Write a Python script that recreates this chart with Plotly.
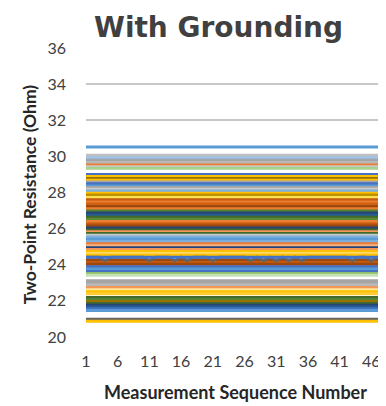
import plotly.graph_objects as go

# ---- data ----
measurements = list(range(1, 49))
x_ticks = [1, 6, 11, 16, 21, 26, 31, 36, 41, 46]
y_ticks = [20, 22, 24, 26, 28, 30, 32, 34, 36]

# each sample's two-point resistance level (Ohm), flat across the sequence
levels = [30.52, 30.06, 29.92, 29.78, 29.64, 29.52, 29.43, 29.34,
          29.00, 28.88, 28.78, 28.68, 28.58, 28.48, 28.36, 28.27, 28.18, 28.08,
          27.96, 27.86, 27.73, 27.60, 27.48, 27.36, 27.23, 27.10, 26.98,
          26.86, 26.74, 26.63, 26.52, 26.39, 26.26, 26.15, 26.03, 25.93,
          25.83, 25.73, 25.63, 25.53, 25.41, 25.29, 25.16, 25.05, 24.94,
          24.84, 24.73, 24.62, 24.52,
          24.24, 24.13, 24.03,
          None,
          24.42,
          23.89, 23.76, 23.63, 23.52, 23.42,
          23.12, 23.00, 22.89, 22.74, 22.62, 22.50, 22.39,
          22.19, 22.08, 21.96, 21.86, 21.76, 21.66, 21.56, 21.47,
          20.98, 20.87]

# the dark-gray sample that dips into the brown band at some measurements
dip_series = [24.42, 24.42, 24.42, 24.22, 24.42, 24.42, 24.42, 24.42, 24.42, 24.42,
              24.22, 24.42, 24.42, 24.42, 24.22, 24.42, 24.22, 24.42, 24.42, 24.42,
              24.22, 24.42, 24.42, 24.42, 24.42, 24.42, 24.22, 24.42, 24.22, 24.42,
              24.22, 24.42, 24.22, 24.42, 24.22, 24.42, 24.42, 24.42, 24.42, 24.42,
              24.42, 24.42, 24.22, 24.42, 24.42, 24.22, 24.42, 24.42]

colors = ["#5B9BD5", "#BFBFBF", "#9DC3E6", "#A5A5A5", "#B7B7B7", "#ED7D31", "#C9C9C9", "#A9D18E",
          "#4472C4", "#FFC000", "#997300", "#FFC000", "#A5A5A5", "#4472C4", "#5B9BD5", "#A5A5A5", "#C9C9C9", "#7CAFDD",
          "#FFC000", "#BF9000", "#FFE14D", "#C55A11", "#ED7D31", "#D26012", "#9E480E", "#ED7D31", "#548235",
          "#264478", "#255E91", "#43682B", "#5A8A39", "#ED7D31", "#C55A11", "#9E480E", "#264478", "#43682B",
          "#F1975A", "#43682B", "#C9C9C9", "#7CAFDD", "#5B9BD5", "#7CAFDD", "#ED7D31", "#F4B183", "#264478",
          "#F1975A", "#FFC000", "#FFD966", "#FFC000",
          "#9E480E", "#C55A11", "#9E480E",
          "#636363",
          "#4472C4",
          "#4472C4", "#5B9BD5", "#4472C4", "#8CC168", "#C5E0B4",
          "#A5A5A5", "#A5A5A5", "#B7B7B7", "#F1975A", "#FFE699", "#FFC000", "#FFCD33",
          "#43682B", "#548235", "#997300", "#43682B", "#264478", "#255E91", "#4472C4", "#5B9BD5",
          "#636363", "#FFC000"]

fig = go.Figure()
for lvl, col in zip(levels, colors):
    ys = dip_series if lvl is None else [lvl] * len(measurements)
    fig.add_trace(go.Scatter(x=measurements, y=ys, mode="lines",
                             line=dict(color=col, width=3), hoverinfo="skip",
                             showlegend=False))

# the page body has an 8px margin, so the figure is drawn 8px smaller and offset
OFF = 8
W, H = 386 - OFF, 406 - OFF
L, R, T, B = 86 - OFF, 2, 47.5 - OFF, 69
PW, PH = W - L - R, H - T - B

def px_x(x):
    return (x - OFF - L) / PW

def px_y(y):
    return 1 - (y - OFF - T) / PH

fig.update_layout(
    width=W, height=H,
    margin=dict(l=L, r=R, t=T, b=B, autoexpand=False, pad=0),
    paper_bgcolor="white", plot_bgcolor="white",
    font=dict(family="Lato, Open Sans, sans-serif", color="#404040", size=16),
    xaxis=dict(range=[1, 48], tickvals=x_ticks, ticktext=[str(v) for v in x_ticks],
               showgrid=False, zeroline=False, showline=False, ticks="", automargin=False,
               tickfont=dict(size=16, color="#404040"), ticklabelstandoff=13),
    yaxis=dict(range=[20, 36], tickvals=y_ticks, showgrid=True, gridcolor="#C8C8C8",
               gridwidth=1.5, zeroline=False, showline=False, ticks="", automargin=False,
               tickfont=dict(size=16, color="#404040"), ticklabelstandoff=19),
    annotations=[
        dict(text="<b>With Grounding</b>", xref="paper", yref="paper",
             x=px_x(218), y=px_y(27),
             xanchor="center", yanchor="middle", showarrow=False,
             font=dict(size=28, color="#404040", family="DejaVu Sans, sans-serif")),
        dict(text="<b>Two-Point Resistance (Ohm)</b>", xref="paper", yref="paper",
             x=px_x(29), y=px_y(194),
             xanchor="center", yanchor="middle", textangle=-90, showarrow=False,
             font=dict(size=17.5, color="#262626")),
        dict(text="<b>Measurement Sequence Number</b>", xref="paper", yref="paper",
             x=px_x(235), y=px_y(392),
             xanchor="center", yanchor="middle", showarrow=False,
             font=dict(size=18, color="#262626")),
    ],
)

fig.write_html("out.html")
